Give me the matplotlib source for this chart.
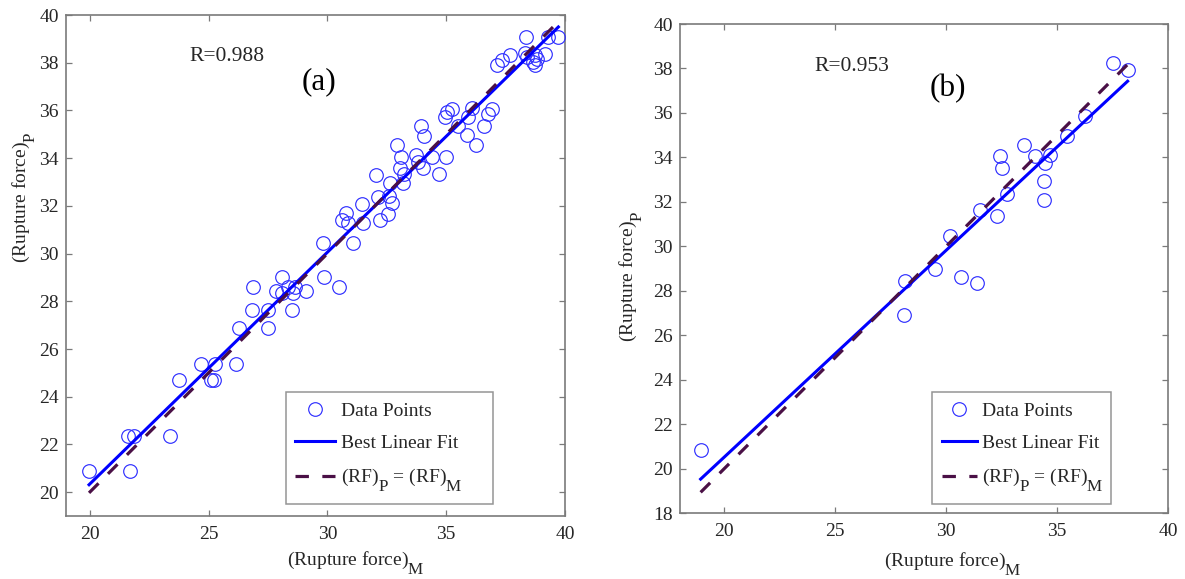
import matplotlib
matplotlib.use("Agg")
import matplotlib.pyplot as plt
import numpy as np

plt.rcParams["font.family"] = "serif"
plt.rcParams["font.serif"] = ["Liberation Serif", "DejaVu Serif"]
plt.rcParams["mathtext.fontset"] = "custom"
plt.rcParams["mathtext.rm"] = "Liberation Serif"
plt.rcParams["mathtext.it"] = "Liberation Serif:italic"

# Larger, lower subscripts for the "(Rupture force)_M" style labels
try:
    import matplotlib._mathtext as _mt
    _mt.SHRINK_FACTOR = 0.88
    _mt.FontConstantsBase.sub1 = 1.1
except Exception:
    pass

# ---- (a) measured vs. predicted rupture force ----
rf_measured_a = [
    19.97, 21.71, 21.61, 21.85, 23.37, 23.76, 25.12, 25.22, 24.67, 25.26,
    26.15, 26.29, 27.51, 26.83, 27.51, 28.52, 26.88, 27.83, 28.07, 28.35,
    28.63, 28.56, 29.08, 28.10, 29.85, 30.48,
    29.82, 31.09, 30.60, 30.88, 30.78, 31.51, 32.21, 32.56, 31.44, 32.14,
    32.60, 32.70, 32.03, 32.63, 33.19, 33.22, 33.05, 33.82, 32.91, 33.08,
    33.73, 34.03, 34.39, 34.99, 34.71, 33.96, 34.08, 34.95, 35.02, 35.23,
    35.51, 35.86, 36.25, 35.93, 36.07, 36.59, 36.77, 36.91,
    37.12, 37.33, 37.68, 38.32, 38.39, 38.74, 38.64, 38.74, 39.16, 38.83,
    38.34, 39.27, 39.72,
]
rf_predicted_a = [
    20.87, 20.87, 22.34, 22.34, 22.34, 24.72, 24.72, 24.72, 25.38, 25.38,
    25.38, 26.90, 26.90, 27.62, 27.62, 27.62, 28.58, 28.44, 28.33, 28.58,
    28.58, 28.33, 28.44, 29.00, 29.00, 28.58,
    30.45, 30.45, 31.41, 31.29, 31.69, 31.27, 31.40, 31.65, 32.08, 32.38,
    32.41, 32.10, 33.29, 32.95, 32.95, 33.34, 33.58, 33.85, 34.55, 34.06,
    34.13, 33.58, 34.06, 34.06, 33.34, 35.35, 34.93, 35.72, 35.95, 36.05,
    35.35, 34.97, 34.55, 35.74, 36.09, 35.35, 35.86, 36.05,
    37.89, 38.10, 38.34, 38.41, 38.24, 38.34, 38.05, 37.89, 38.38, 38.16,
    39.08, 39.08, 39.08,
]
fit_slope_a, fit_intercept_a = 0.9715, 0.91
r_text_a = "R=0.988"

# ---- (b) measured vs. predicted rupture force ----
rf_measured_b = [
    18.93, 28.12, 28.14, 29.51, 30.16, 30.65, 31.41, 31.54, 32.27, 32.43,
    32.51, 32.76, 33.52, 34.00, 34.46, 34.70, 34.42, 34.42, 35.43, 36.24,
    37.54, 38.18,
]
rf_predicted_b = [
    20.82, 26.89, 28.44, 28.96, 30.44, 28.60, 28.33, 31.64, 31.38, 34.07,
    33.54, 32.36, 34.56, 34.07, 33.74, 34.11, 32.94, 32.09, 34.97, 35.87,
    38.24, 37.91,
]
fit_slope_b, fit_intercept_b = 0.930, 1.92
r_text_b = "R=0.953"

x_ticks = [20, 25, 30, 35, 40]
y_ticks_a = list(range(20, 41, 2))
y_ticks_b = list(range(18, 41, 2))

POINT_COLOR = "#3030ff"
FIT_COLOR = "#0000ff"
IDENT_COLOR = "#4a1046"
FRAME_COLOR = "#7a7a7a"
TEXT_COLOR = "#262626"

W, H = 1185, 579
fig = plt.figure(figsize=(W / 100, H / 100), dpi=100)


def px_axes(left, top, right, bottom):
    return fig.add_axes([left / W, 1 - bottom / H, (right - left) / W, (bottom - top) / H])


def draw_panel(ax, xm, yp, slope, intercept, lims, yticks, r_text, r_pos,
               tag, tag_pos, leg_box, handlelen, xlab_pos, ylab_pos):
    xm = np.asarray(xm)
    yp = np.asarray(yp)
    ax.plot(xm, yp, "o", ms=9.8, mfc="none", mec=POINT_COLOR, mew=0.85,
            label="Data Points", zorder=3)
    xs = np.array([xm.min(), xm.max()])
    ax.plot(xs, slope * xs + intercept, "-", color=FIT_COLOR, lw=2.2,
            label="Best Linear Fit", zorder=4)
    ax.plot(xs, xs, color=IDENT_COLOR, lw=2.3, dashes=(4.2, 4.2),
            label=r"(RF)$_\mathrm{P}$ = (RF)$_\mathrm{M}$", zorder=5)

    ax.set_xlim(*lims)
    ax.set_ylim(*lims)
    ax.set_xticks(x_ticks)
    ax.set_yticks(yticks)
    ax.tick_params(direction="in", length=4, width=0.9, color=FRAME_COLOR,
                   labelsize=14, labelcolor=TEXT_COLOR, top=True, right=True)
    ax.tick_params(axis="x", pad=7)
    ax.tick_params(axis="y", pad=5)
    for sp in ax.spines.values():
        sp.set_color(FRAME_COLOR)
        sp.set_linewidth(1.2)

    ax.set_xlabel(r"(Rupture force)$_\mathrm{M}$", fontsize=14, color=TEXT_COLOR)
    ax.set_ylabel(r"(Rupture force)$_\mathrm{P}$", fontsize=14, color=TEXT_COLOR)
    ax.xaxis.set_label_coords(*xlab_pos)
    ax.yaxis.set_label_coords(*ylab_pos)

    ax.text(*r_pos, r_text, fontsize=15.5, color=TEXT_COLOR, ha="center", va="center")
    ax.text(*tag_pos, tag, fontsize=22.5, color="black", ha="center", va="center")

    leg = ax.legend(loc="lower left", bbox_to_anchor=leg_box, mode="expand",
                    borderaxespad=0, numpoints=1, fontsize=14, frameon=True,
                    fancybox=False, edgecolor=FRAME_COLOR, handlelength=handlelen,
                    handletextpad=0.3, borderpad=0.5, labelspacing=0.75)
    leg.get_frame().set_linewidth(1.1)
    for t in leg.get_texts():
        t.set_color(TEXT_COLOR)


ax_a = px_axes(66, 15, 565, 516)
draw_panel(ax_a, rf_measured_a, rf_predicted_a, fit_slope_a, fit_intercept_a,
           (19, 40), y_ticks_a, r_text_a, (25.76, 38.26), "(a)", (29.65, 37.2),
           (0.440, 0.024, 0.416, 0.2), 2.05, (0.58, -0.066), (-0.056, 0.637))

ax_b = px_axes(680, 24, 1168, 513)
draw_panel(ax_b, rf_measured_b, rf_predicted_b, fit_slope_b, fit_intercept_b,
           (18, 40), y_ticks_b, r_text_b, (25.74, 38.07), "(b)", (30.06, 37.09),
           (0.516, 0.018, 0.367, 0.2), 1.8, (0.56, -0.076), (-0.072, 0.485))

fig.savefig("out.png", dpi=100, facecolor="white")
